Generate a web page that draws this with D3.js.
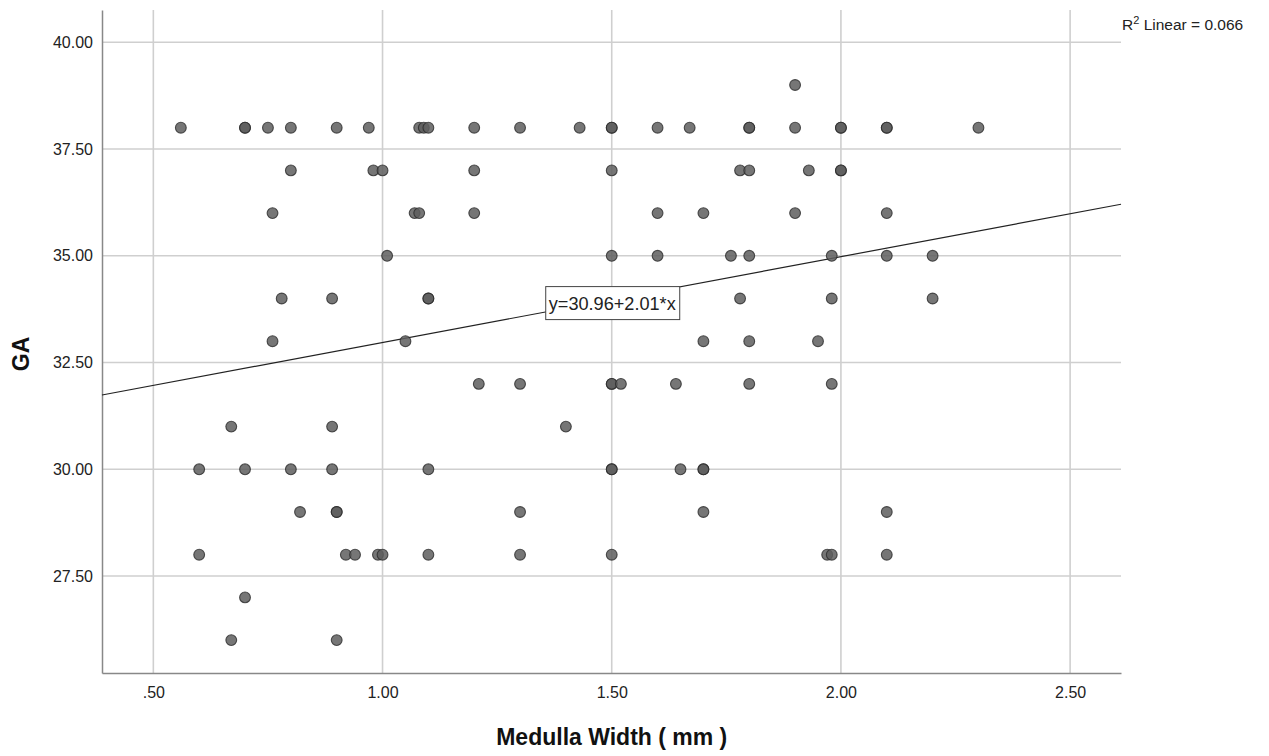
<!DOCTYPE html>
<html>
<head>
<meta charset="utf-8">
<script src="https://cdn.jsdelivr.net/npm/d3@7"></script>
<style>
  body { margin: 0; background: #fff; }
  text { font-family: "Liberation Sans", Arial, sans-serif; }
</style>
</head>
<body>
<div id="chart"></div>
<script>
// Date: latimea medulei (mm) si GA
var medullaWidth = [
  0.56, 0.70, 0.70, 0.75, 0.80, 0.90, 0.97, 1.08, 1.09, 1.10, 1.20, 1.30, 1.43, 1.50, 1.50, 1.60, 1.67, 1.80, 1.80, 1.90, 2.00, 2.00, 2.10, 2.10, 2.30,
  1.90,
  0.80, 0.98, 1.00, 1.20, 1.50, 1.78, 1.80, 1.93, 2.00, 2.00,
  0.76, 1.07, 1.08, 1.20, 1.60, 1.70, 1.90, 2.10,
  1.01, 1.50, 1.60, 1.76, 1.80, 1.98, 2.10, 2.20,
  0.78, 0.89, 1.10, 1.10, 1.78, 1.98, 2.20,
  0.76, 1.05, 1.70, 1.80, 1.95,
  1.21, 1.30, 1.50, 1.50, 1.52, 1.64, 1.80, 1.98,
  0.67, 0.89, 1.40,
  0.60, 0.70, 0.80, 0.89, 1.10, 1.50, 1.50, 1.65, 1.70, 1.70,
  0.82, 0.90, 0.90, 1.30, 1.70, 2.10,
  0.60, 0.92, 0.94, 0.99, 1.00, 1.10, 1.30, 1.50, 1.97, 1.98, 2.10,
  0.70,
  0.67, 0.90
];
var gaValues = [
  38, 38, 38, 38, 38, 38, 38, 38, 38, 38, 38, 38, 38, 38, 38, 38, 38, 38, 38, 38, 38, 38, 38, 38, 38,
  39,
  37, 37, 37, 37, 37, 37, 37, 37, 37, 37,
  36, 36, 36, 36, 36, 36, 36, 36,
  35, 35, 35, 35, 35, 35, 35, 35,
  34, 34, 34, 34, 34, 34, 34,
  33, 33, 33, 33, 33,
  32, 32, 32, 32, 32, 32, 32, 32,
  31, 31, 31,
  30, 30, 30, 30, 30, 30, 30, 30, 30, 30,
  29, 29, 29, 29, 29, 29,
  28, 28, 28, 28, 28, 28, 28, 28, 28, 28, 28,
  27,
  26, 26
];
var xTicks = [0.5, 1.0, 1.5, 2.0, 2.5];
var yTicks = [27.5, 30, 32.5, 35, 37.5, 40];
var fitIntercept = 30.96;
var fitSlope = 2.01;
var fitLabel = "y=30.96+2.01*x";
var r2Value = "0.066";

var svgWidth = 1269;
var svgHeight = 756;
var margin = { top: 10, right: 148, bottom: 83, left: 102 };
var width = svgWidth - margin.left - margin.right;
var height = svgHeight - margin.top - margin.bottom;

var svg = d3.select("#chart")
    .append("svg")
    .attr("width", svgWidth)
    .attr("height", svgHeight);

var g = svg.append("g")
    .attr("transform", "translate(" + margin.left + "," + margin.top + ")");

var x = d3.scaleLinear().domain([0.388, 2.611]).range([0, width]);
var y = d3.scaleLinear().domain([25.23, 40.757]).range([height, 0]);

// format SPSS: fara zero in fata
function fmt(v) {
    var s = d3.format(".2f")(v);
    return s.indexOf("0.") === 0 ? s.slice(1) : s;
}

// Liniile de grila
g.append("g").selectAll("line")
    .data(xTicks)
    .join("line")
    .attr("x1", function (d) { return x(d); })
    .attr("x2", function (d) { return x(d); })
    .attr("y1", 0)
    .attr("y2", height)
    .attr("stroke", "#cfcfcf")
    .attr("stroke-width", 1.6);

g.append("g").selectAll("line")
    .data(yTicks)
    .join("line")
    .attr("x1", 0)
    .attr("x2", width)
    .attr("y1", function (d) { return y(d); })
    .attr("y2", function (d) { return y(d); })
    .attr("stroke", "#cfcfcf")
    .attr("stroke-width", 1.6);

// Axa X
var xAxis = g.append("g")
    .attr("transform", "translate(0," + height + ")")
    .call(d3.axisBottom(x).tickValues(xTicks).tickFormat(fmt).tickSize(0).tickPadding(14));
xAxis.select(".domain").attr("stroke", "#888").attr("stroke-width", 1.5);
xAxis.selectAll("text").attr("font-size", 16).attr("fill", "#222");

// Axa Y
var yAxis = g.append("g")
    .call(d3.axisLeft(y).tickValues(yTicks).tickFormat(fmt).tickSize(0).tickPadding(9));
yAxis.select(".domain").attr("stroke", "#888").attr("stroke-width", 1.5);
yAxis.selectAll("text").attr("font-size", 16).attr("fill", "#222");

// Linia de regresie
var fitLine = d3.line()
    .x(function (d) { return x(d); })
    .y(function (d) { return y(fitIntercept + fitSlope * d); });

g.append("path")
    .datum(x.domain())
    .attr("fill", "none")
    .attr("stroke", "#222")
    .attr("stroke-width", 1.2)
    .attr("d", fitLine);

// Punctele
var points = medullaWidth.map(function (d, i) {
    return { mw: d, ga: gaValues[i] };
});

g.append("g").selectAll("circle")
    .data(points)
    .join("circle")
    .attr("cx", function (d) { return x(d.mw); })
    .attr("cy", function (d) { return y(d.ga); })
    .attr("r", 5.4)
    .attr("fill", "#5e5e5e")
    .attr("fill-opacity", 0.85)
    .attr("stroke", "#2a2a2a")
    .attr("stroke-opacity", 0.8)
    .attr("stroke-width", 1.1);

// Eticheta ecuatiei
var lx = x(1.5), ly = y(fitIntercept + fitSlope * 1.5) + 2;
var lbl = g.append("g").attr("transform", "translate(" + lx + "," + ly + ")");
lbl.append("rect")
    .attr("x", -66)
    .attr("y", -15)
    .attr("width", 134)
    .attr("height", 33)
    .attr("fill", "#fff")
    .attr("stroke", "#444")
    .attr("stroke-width", 1);
lbl.append("text")
    .attr("x", -63)
    .attr("y", 8)
    .attr("font-size", 19)
    .attr("textLength", 127)
    .attr("lengthAdjust", "spacingAndGlyphs")
    .attr("fill", "#222")
    .text(fitLabel);

// R patrat
var r2 = svg.append("text")
    .attr("x", 1122)
    .attr("y", 30)
    .attr("font-size", 15.5)
    .attr("fill", "#222");
r2.append("tspan").text("R");
r2.append("tspan").attr("dy", -6).attr("font-size", 11).text("2");
r2.append("tspan").attr("dy", 6).text(" Linear = " + r2Value);

// Titlurile axelor
svg.append("text")
    .attr("x", margin.left + x(1.5))
    .attr("y", 745)
    .attr("text-anchor", "middle")
    .attr("font-size", 23)
    .attr("font-weight", "bold")
    .attr("fill", "#111")
    .text("Medulla Width ( mm )");

svg.append("text")
    .attr("transform", "translate(29,354) rotate(-90)")
    .attr("text-anchor", "middle")
    .attr("font-size", 23)
    .attr("font-weight", "bold")
    .attr("fill", "#111")
    .text("GA");
</script>
</body>
</html>
